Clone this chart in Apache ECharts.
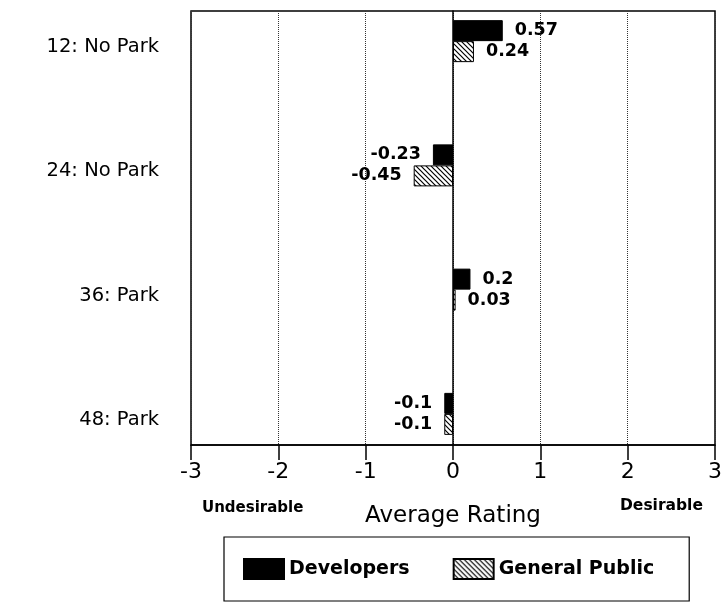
<!DOCTYPE html>
<html>
<head>
<meta charset="utf-8">
<script src="https://cdn.jsdelivr.net/npm/echarts@6/dist/echarts.min.js"></script>
<style>html,body{margin:0;padding:0;background:#fff}#c{width:722px;height:602px}</style>
</head>
<body>
<div id="c"></div>
<script>
const categories = ['12: No Park', '24: No Park', '36: Park', '48: Park'];
const developers = [0.57, -0.23, 0.2, -0.1];
const generalPublic = [0.24, -0.45, 0.03, -0.1];
const xTicks = [-3, -2, -1, 0, 1, 2, 3];
const seriesNames = ['Developers', 'General Public'];

const FONT = 'DejaVu Sans';

function hatch() {
  const c = document.createElement('canvas');
  c.width = 5; c.height = 5;
  const g = c.getContext('2d');
  g.fillStyle = '#fff'; g.fillRect(0, 0, 5, 5);
  g.strokeStyle = '#000'; g.lineWidth = 1.2;
  g.beginPath();
  g.moveTo(-1, -1); g.lineTo(6, 6);
  g.moveTo(-1, 4); g.lineTo(1, 6);
  g.moveTo(4, -1); g.lineTo(6, 1);
  g.stroke();
  return c;
}

function items(arr) {
  return arr.map(v => ({
    value: v,
    label: { position: v < 0 ? 'left' : 'right' }
  }));
}

const labelCfg = {
  show: true,
  distance: 12,
  color: '#000',
  fontFamily: FONT,
  fontWeight: 'bold',
  fontSize: 17.5,
  formatter: p => String(p.value)
};

const chart = echarts.init(document.getElementById('c'), null, { renderer: 'canvas' });
chart.setOption({
  animation: false,
  backgroundColor: '#fff',
  grid: [
    { left: 191, width: 524, top: 11, height: 434, show: true, borderColor: '#000', borderWidth: 1.5,
      backgroundColor: 'transparent', outerBoundsMode: 'none', containLabel: false },
    { left: 191, width: 524, top: -21, height: 497, outerBoundsMode: 'none', containLabel: false }
  ],
  xAxis: [
    {
      gridIndex: 0, type: 'value',
      min: xTicks[0], max: xTicks[xTicks.length - 1], interval: 1,
      axisLine: { show: true, onZero: false, lineStyle: { color: '#000', width: 1.5 } },
      axisTick: { show: true, length: 15, lineStyle: { color: '#000', width: 1.5 } },
      axisLabel: { color: '#000', fontFamily: FONT, fontSize: 22, margin: 16 },
      splitLine: { show: true, lineStyle: { color: '#333', type: 'dotted', width: 1 } },
      name: 'Average Rating', nameLocation: 'middle', nameGap: 60,
      nameTextStyle: { color: '#000', fontFamily: FONT, fontSize: 23 }
    },
    {
      gridIndex: 1, type: 'value',
      min: xTicks[0], max: xTicks[xTicks.length - 1],
      show: false
    }
  ],
  yAxis: [
    {
      gridIndex: 0, type: 'value', min: 0, max: 1,
      axisLine: { show: true, onZero: true, lineStyle: { color: '#000', width: 1.5 } },
      axisTick: { show: false }, axisLabel: { show: false }, splitLine: { show: false }
    },
    {
      gridIndex: 1, type: 'category', data: categories, inverse: true,
      axisLine: { show: false }, axisTick: { show: false }, splitLine: { show: false },
      axisLabel: { color: '#000', fontFamily: FONT, fontSize: 19.5, margin: 32,
        verticalAlign: 'top', lineHeight: 12 }
    }
  ],
  legend: {
    data: seriesNames,
    left: 224, top: 537,
    orient: 'horizontal',
    itemWidth: 40, itemHeight: 20, itemGap: 43,
    icon: 'rect',
    borderColor: '#000', borderWidth: 1.2,
    padding: [21, 35, 21, 19],
    textStyle: { color: '#000', fontFamily: FONT, fontWeight: 'bold', fontSize: 19 }
  },
  graphic: [
    { type: 'text', left: 202, top: 501, style: { text: 'Undesirable', fill: '#000', font: 'bold 15px "DejaVu Sans"' } },
    { type: 'text', left: 620, top: 498, style: { text: 'Desirable', fill: '#000', font: 'bold 15.5px "DejaVu Sans"' } }
  ],
  series: [
    {
      name: seriesNames[0], type: 'bar', xAxisIndex: 1, yAxisIndex: 1,
      data: items(developers), barWidth: 21, barGap: '0%',
      itemStyle: { color: '#000', borderColor: '#000', borderWidth: 1 },
      label: labelCfg
    },
    {
      name: seriesNames[1], type: 'bar', xAxisIndex: 1, yAxisIndex: 1,
      data: items(generalPublic), barWidth: 21, barGap: '0%',
      itemStyle: { color: { image: hatch(), repeat: 'repeat' }, borderColor: '#000', borderWidth: 1 },
      label: labelCfg
    }
  ]
});
</script>
</body>
</html>
